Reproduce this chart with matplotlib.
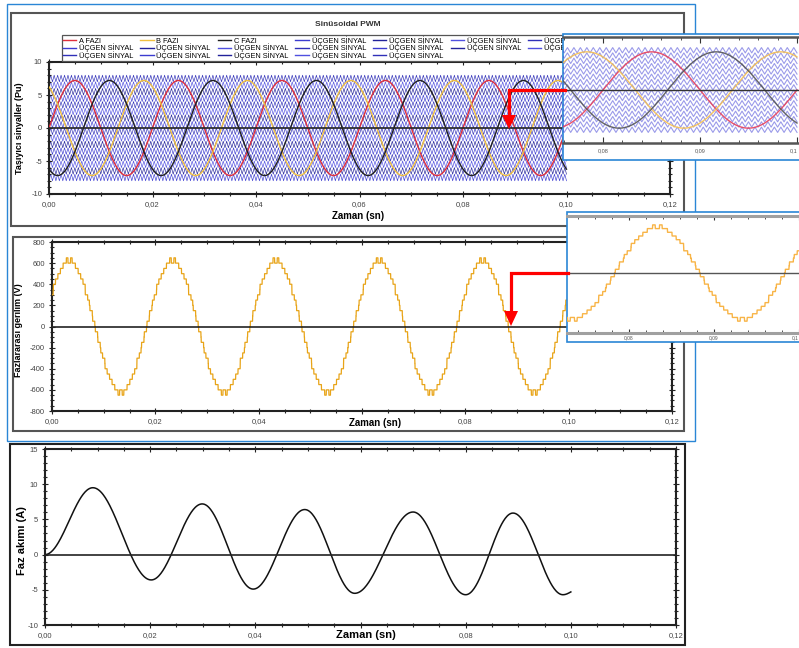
import numpy as np
import matplotlib
matplotlib.use('Agg')
import matplotlib.pyplot as plt
from matplotlib.patches import Rectangle, Polygon
from matplotlib.lines import Line2D
from matplotlib.ticker import MultipleLocator, FuncFormatter

plt.rcParams['font.family'] = ['Liberation Sans', 'DejaVu Sans']

# ---------------- data ----------------
TITLE = 'Sinüsoidal PWM'
PHASE_LABELS = ['A FAZI', 'B FAZI', 'C FAZI']
CARRIER_LABEL = 'ÜÇGEN SİNYAL'
X_LABEL = 'Zaman (sn)'
Y_LABELS = ['Taşıyıcı sinyaller (Pu)', 'Fazlararası gerilim (V)', 'Faz akımı (A)']

REF_AMPLITUDE = 7.2            # Pu, peak of the reference sines
REF_FREQ_HZ = 50.0
PHASE_SHIFT_DEG = [0.0, 120.0, -120.0]   # A, B, C
CARRIER_COUNT = 16
CARRIER_RANGE = [-8.0, 8.0]
CARRIER_FREQ_HZ = 1500.0
SIM_END_S = 0.10
LEVEL_STEP_V = 50.0            # volts per inverter level

# phase current extrema (time s, value A)
CURRENT_EXT_T = [0.0, 0.0091, 0.0202, 0.0299, 0.0396, 0.0494, 0.0589, 0.0700, 0.0800, 0.0890, 0.0985, 0.1000]
CURRENT_EXT_A = [0.0, 9.5, -3.6, 7.2, -4.9, 6.4, -5.5, 6.05, -5.7, 5.9, -5.7, -5.3]

# ---------------- derived series ----------------
t = np.linspace(0.0, SIM_END_S, 8001)
refs = [REF_AMPLITUDE * np.sin(2 * np.pi * REF_FREQ_HZ * t + np.deg2rad(p)) for p in PHASE_SHIFT_DEG]

band = (CARRIER_RANGE[1] - CARRIER_RANGE[0]) / CARRIER_COUNT
n_half = int(round(SIM_END_S * 2 * CARRIER_FREQ_HZ))
tc = np.arange(n_half + 1) / (2 * CARRIER_FREQ_HZ)
carrier_lows = [CARRIER_RANGE[0] + j * band for j in range(CARRIER_COUNT)]
carriers = [lo + band * (np.arange(n_half + 1) % 2) for lo in carrier_lows]

mids = np.array(carrier_lows) + band / 2
levels = [(r[:, None] > mids[None, :]).sum(axis=1) - CARRIER_COUNT / 2 for r in refs]
v_line = (levels[0] - levels[2]) * LEVEL_STEP_V

ct, cv = [], []
for i in range(len(CURRENT_EXT_T) - 1):
    s = np.linspace(0, 1, 80)
    t0, t1 = CURRENT_EXT_T[i], CURRENT_EXT_T[i + 1]
    v0, v1 = CURRENT_EXT_A[i], CURRENT_EXT_A[i + 1]
    if i == len(CURRENT_EXT_T) - 2:
        shape = 1 - np.cos(np.pi * s / 2)
    else:
        shape = (1 - np.cos(np.pi * s)) / 2
    ct.append(t0 + (t1 - t0) * s)
    cv.append(v0 + (v1 - v0) * shape)
ct = np.concatenate(ct)
cv = np.concatenate(cv)

# ---------------- figure ----------------
W, H = 799, 648
fig = plt.figure(figsize=(W / 100, H / 100), dpi=100)
fig.patch.set_facecolor('white')


def fr(x0, y0, x1, y1):
    return [x0 / W, 1 - y1 / H, (x1 - x0) / W, (y1 - y0) / H]


def px_rect(x0, y0, x1, y1, **kw):
    r = Rectangle((x0 / W, 1 - y1 / H), (x1 - x0) / W, (y1 - y0) / H,
                  transform=fig.transFigure, **kw)
    fig.add_artist(r)


def px_line(xs, ys, **kw):
    fig.add_artist(Line2D([x / W for x in xs], [1 - y / H for y in ys],
                          transform=fig.transFigure, **kw))


def px_poly(pts, **kw):
    fig.add_artist(Polygon([[x / W, 1 - y / H] for x, y in pts], closed=True,
                           transform=fig.transFigure, **kw))


def comma_fmt(skip=None):
    def f(v, p):
        if skip is not None and abs(v - skip) < 1e-9:
            return ''
        return f'{v:.2f}'.replace('.', ',')
    return FuncFormatter(f)


intfmt = FuncFormatter(lambda v, p: f'{v:.0f}')


def style_axes(ax, box, ymaj, ymin, ylim, ylabel, ylab_xy, xlab_xy, ylab_fs, xlab_fs, skip=None):
    x0, y0, x1, y1 = box
    ax.set_xlim(0, 0.12)
    ax.set_ylim(*ylim)
    ax.xaxis.set_major_locator(MultipleLocator(0.02))
    ax.xaxis.set_minor_locator(MultipleLocator(0.005))
    ax.yaxis.set_major_locator(MultipleLocator(ymaj))
    ax.yaxis.set_minor_locator(MultipleLocator(ymin))
    ax.xaxis.set_major_formatter(comma_fmt(skip))
    ax.yaxis.set_major_formatter(intfmt)
    ax.tick_params(which='both', direction='inout', top=True, right=True,
                   labelsize=5.5, labelcolor='#444444', color='#222222', width=0.8)
    ax.tick_params(which='major', length=5, pad=2.5)
    ax.tick_params(which='minor', length=3)
    for sp in ax.spines.values():
        sp.set_linewidth(1.5)
        sp.set_color('#222222')
    ax.axhline(0, color='#222222', lw=1.2, zorder=4)
    ax.set_ylabel(ylabel, fontsize=ylab_fs, fontweight='bold', va='center', ha='center')
    ax.yaxis.set_label_coords((ylab_xy[0] - x0) / (x1 - x0), (y1 - ylab_xy[1]) / (y1 - y0))
    ax.set_xlabel(X_LABEL, fontsize=xlab_fs, fontweight='bold', va='center', ha='center')
    ax.xaxis.set_label_coords((xlab_xy[0] - x0) / (x1 - x0), (y1 - xlab_xy[1]) / (y1 - y0))


carrier_colors = ['#3c3cd0', '#22229a', '#5050e0', '#3030b8']
phase_colors = ['#e0303c', '#f0c040', '#202020']

# ---- panel 1 ----
box1 = (49, 62, 670, 194)
ax1 = fig.add_axes(fr(*box1))
carrier_handles = []
for j, c in enumerate(carriers):
    h, = ax1.plot(tc, c, color=carrier_colors[j % 4], lw=0.45, zorder=1, label=CARRIER_LABEL)
    carrier_handles.append(h)
phase_handles = []
for r, col, lab in zip(refs, phase_colors, PHASE_LABELS):
    h, = ax1.plot(t, r, color=col, lw=1.0, zorder=3, label=lab)
    phase_handles.append(h)
style_axes(ax1, box1, 5, 1, (-10, 10), Y_LABELS[0], (20, 128), (358, 216), 6.5, 7)
fig.text(348 / W, 1 - 24 / H, TITLE, fontsize=6, fontweight='bold', color='#333333',
         ha='center', va='center')

entries = phase_handles + carrier_handles
ncol = 7
sizes = [len(a) for a in np.array_split(np.arange(len(entries)), ncol)]
ordered = []
for c in range(ncol):
    for r_ in range(sizes[c]):
        ordered.append(entries[r_ * ncol + c])
leg = ax1.legend(handles=ordered, labels=[h.get_label() for h in ordered], ncol=ncol,
                 loc='upper left', bbox_to_anchor=(62 / W, 1 - 35 / H),
                 bbox_transform=fig.transFigure, fontsize=5.3, frameon=True,
                 fancybox=False, framealpha=1, edgecolor='#555555', borderpad=0.1,
                 handlelength=1.8, handletextpad=0.4, columnspacing=0.95,
                 labelspacing=-0.15, borderaxespad=0)
leg.get_frame().set_linewidth(0.9)
for ln in leg.get_lines():
    ln.set_linewidth(1.0)

# ---- panel 2 ----
box2 = (52, 242, 672, 411)
ax2 = fig.add_axes(fr(*box2))
ax2.plot(t, v_line, color='#e8a418', lw=0.9, zorder=3)
style_axes(ax2, box2, 200, 50, (-800, 800), Y_LABELS[1], (19, 330), (375, 423), 6.5, 7, skip=0.06)

# ---- panel 3 ----
box3 = (45, 449, 676, 625)
ax3 = fig.add_axes(fr(*box3))
ax3.plot(ct, cv, color='#111111', lw=1.1, zorder=3)
style_axes(ax3, box3, 5, 1, (-10, 15), Y_LABELS[2], (22, 541), (366, 635), 8, 8, skip=0.06)

# ---- frames ----
px_rect(7, 4, 695, 441, fill=False, ec='#2a86d6', lw=1.0, zorder=0.6)
px_rect(11, 13, 684, 226, fill=False, ec='#555555', lw=1.5, zorder=0.7)
px_rect(13, 237, 684, 431, fill=False, ec='#555555', lw=1.5, zorder=0.7)
px_rect(10, 444, 685, 645, fill=False, ec='#222222', lw=1.5, zorder=0.7)


def inset_ticks(ax, labelsize, pad):
    ax.set_xticks([0.08, 0.09, 0.10], ['0,08', '0,09', '0,1'])
    ax.xaxis.set_minor_locator(MultipleLocator(0.002))
    ax.set_yticks([])
    ax.tick_params(which='both', direction='in', top=True, labelsize=labelsize,
                   labelcolor='#555555', color='#333333', pad=pad)
    ax.get_xticklabels()[-1].set_horizontalalignment('right')
    ax.spines['left'].set_visible(False)
    ax.spines['right'].set_visible(False)
    ax.patch.set_alpha(0)


# ---- inset 1 (zoom of the carrier chart) ----
px_rect(563, 34, 806, 160, fc='white', ec='#2a86d6', lw=1.2, zorder=4)
in1 = fig.add_axes(fr(563, 37, 806, 143), zorder=5)
for j, c in enumerate(carriers):
    in1.plot(tc, c, color='#4848d8', lw=0.8, alpha=0.55, zorder=1)
for r, col in zip(refs, ['#e8405a', '#f5c050', '#555555']):
    in1.plot(t, r, color=col, lw=1.0, alpha=0.9, zorder=3)
in1.axhline(0, color='#333333', lw=1.0, zorder=4)
in1.set_xlim(0.08 - 40 / 9700, 0.08 + 203 / 9700)
in1.set_ylim(-10, 10)
inset_ticks(in1, 4, 4)
in1.tick_params(which='major', length=4)
in1.tick_params(which='minor', length=2.5)
for s in ('top', 'bottom'):
    in1.spines[s].set_linewidth(1.8)
    in1.spines[s].set_color('#555555')

# ---- inset 2 (zoom of the voltage chart) ----
px_rect(567, 212, 806, 342, fc='white', ec='#2a86d6', lw=1.2, zorder=4)
in2 = fig.add_axes(fr(567, 216, 806, 333), zorder=5)
in2.plot(t, v_line, color='#f8b446', lw=1.0, zorder=3)
in2.axhline(0, color='#555555', lw=1.0, zorder=4)
in2.set_xlim(0.08 - 62 / 8500, 0.08 + 177 / 8500)
in2.set_ylim(-810, 770)
inset_ticks(in2, 3.5, 2)
in2.tick_params(which='major', length=3)
in2.tick_params(which='minor', length=2)
for s in ('top', 'bottom'):
    in2.spines[s].set_linewidth(2.2)
    in2.spines[s].set_color('#a0a0a0')

# ---- red arrows ----
px_line([565, 509, 509], [90, 90, 116], color='#ff0000', lw=2.3, zorder=10,
        solid_joinstyle='miter')
px_poly([(502, 115), (516, 115), (509, 129)], fc='#ff0000', ec='none', zorder=10)
px_line([568, 511, 511], [273, 273, 312], color='#ff0000', lw=2.3, zorder=10,
        solid_joinstyle='miter')
px_poly([(504, 311), (518, 311), (511, 326)], fc='#ff0000', ec='none', zorder=10)

fig.savefig('out.png', dpi=100, facecolor='white')
